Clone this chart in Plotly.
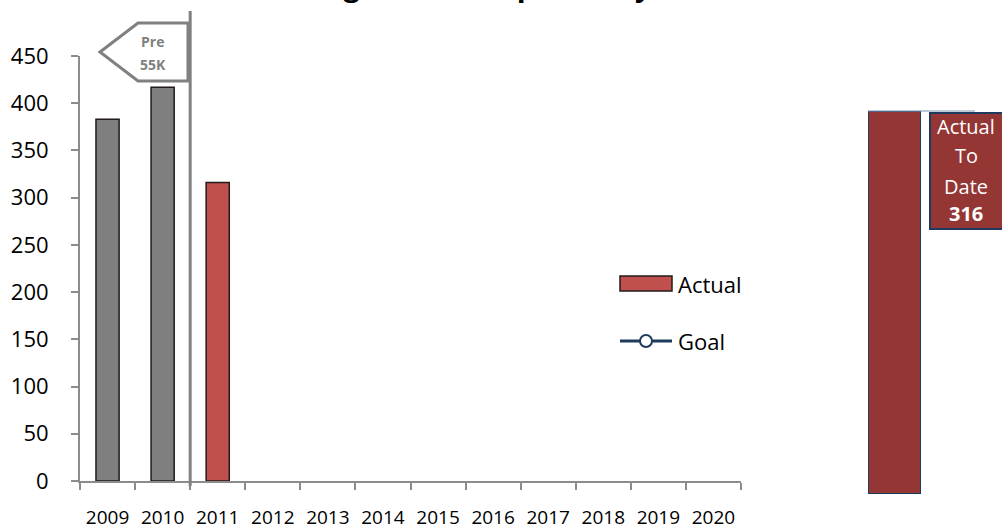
import plotly.graph_objects as go

# ---- data ----
years = ["2009", "2010", "2011", "2012", "2013", "2014", "2015", "2016",
         "2017", "2018", "2019", "2020"]
pre_years = ["2009", "2010"]
pre_values = [383, 417]
actual_years = ["2011"]
actual_values = [316]
goal_values = [None] * len(years)
actual_to_date = 316
y_ticks = [0, 50, 100, 150, 200, 250, 300, 350, 400, 450]

W, H = 1002, 529


def fx(p):
    return p / W


def fy(p):
    return 1 - p / H


FONT = "Open Sans"
GRAY = "#808080"
AXIS = "#8C8C8C"
RED = "#C0504D"
DARKRED = "#943634"
NAVY = "#1F3A5F"

fig = go.Figure()

fig.add_trace(go.Bar(
    x=pre_years, y=pre_values, width=0.42, name="Pre 55K",
    marker=dict(color="#7F7F7F", line=dict(color="#231A1A", width=1.5)),
    showlegend=False, xaxis="x", yaxis="y",
))
fig.add_trace(go.Bar(
    x=actual_years, y=actual_values, width=0.42, name="Actual",
    marker=dict(color=RED, line=dict(color="#231A1A", width=1.5)),
    showlegend=False, xaxis="x", yaxis="y",
))
fig.add_trace(go.Scatter(
    x=years, y=goal_values, name="Goal", mode="lines+markers",
    line=dict(color=NAVY, width=3),
    marker=dict(symbol="circle", size=11, color="white",
                line=dict(color=NAVY, width=2)),
    showlegend=False, xaxis="x", yaxis="y",
))

# running total bar on its own axes
fig.add_trace(go.Bar(
    x=[0], y=[actual_to_date], width=[1], name="Actual To Date",
    marker=dict(color=DARKRED, line=dict(color=NAVY, width=2)),
    showlegend=False, xaxis="x2", yaxis="y2",
))

shapes = [
    # separator between pre and current period
    dict(type="line", xref="x", yref="paper", x0=1.5, x1=1.5,
         y0=fy(486), y1=fy(11), line=dict(color=GRAY, width=3)),
    # "Pre 55K" pointer
    dict(type="path", xref="paper", yref="paper",
         path=(f"M {fx(100)},{fy(52)} L {fx(138)},{fy(23)} L {fx(188)},{fy(23)} "
               f"L {fx(188)},{fy(81)} L {fx(138)},{fy(81)} Z"),
         fillcolor="white", line=dict(color=GRAY, width=3)),
    # legend: Actual swatch
    dict(type="rect", xref="paper", yref="paper",
         x0=fx(620), x1=fx(672), y0=fy(291), y1=fy(276),
         fillcolor=RED, line=dict(color="#231A1A", width=1.5)),
    # legend: Goal line + marker
    dict(type="line", xref="paper", yref="paper",
         x0=fx(620), x1=fx(672), y0=fy(341), y1=fy(341),
         line=dict(color=NAVY, width=3)),
    dict(type="circle", xref="paper", yref="paper",
         x0=fx(640), x1=fx(652), y0=fy(347), y1=fy(335),
         fillcolor="white", line=dict(color=NAVY, width=2)),
    # label box beside the running total bar
    dict(type="line", xref="paper", yref="paper",
         x0=fx(868), x1=fx(975), y0=fy(111), y1=fy(111),
         line=dict(color="#7F93AE", width=1)),
    dict(type="rect", xref="paper", yref="paper",
         x0=fx(930), x1=fx(1012), y0=fy(229), y1=fy(113),
         fillcolor=DARKRED, line=dict(color=NAVY, width=2)),
]


def label(text, x, y, size, color, xanchor="center", yshift=0):
    return dict(text=text, xref="paper", yref="paper", x=fx(x), y=fy(y),
                xanchor=xanchor, yanchor="middle", yshift=yshift,
                showarrow=False, font=dict(family=FONT, size=size, color=color))


annotations = [
    dict(text="<b>Housing Units Completed by Year</b>", xref="paper", yref="paper",
         x=fx(483), y=1, xanchor="center", yanchor="middle", yshift=16,
         showarrow=False, font=dict(family=FONT, size=29, color="black")),
    label("<b>Pre</b>", 152, 42, 14, GRAY),
    label("<b>55K</b>", 153, 64, 14, GRAY),
    label("Actual", 676, 284, 22, "black", xanchor="left"),
    label("Goal", 676, 341, 22, "black", xanchor="left"),
    label("Actual", 966, 126, 20, "white"),
    label("To", 966, 156, 20, "white"),
    label("Date", 966, 186, 20, "white"),
    label(f"<b>{actual_to_date}</b>", 966, 213, 20, "white"),
]

fig.update_layout(
    width=W, height=H,
    margin=dict(l=0, r=0, t=0, b=0, autoexpand=False),
    paper_bgcolor="white", plot_bgcolor="white",
    barmode="overlay",
    showlegend=False,
    font=dict(family=FONT, color="black"),
    xaxis=dict(
        type="category", categoryorder="array", categoryarray=years,
        range=[-0.5, len(years) - 0.5],
        domain=[fx(80), fx(741)],
        showline=True, linecolor=AXIS, linewidth=2,
        ticks="outside", tickson="boundaries", ticklen=7,
        tickcolor=AXIS, tickwidth=2,
        showgrid=False, zeroline=False,
        tickfont=dict(family=FONT, size=19, color="black"),
        ticklabelstandoff=18, automargin=False,
        anchor="y",
    ),
    yaxis=dict(
        range=[0, 450], domain=[fy(481), fy(56)],
        tickvals=y_ticks,
        showline=True, linecolor=AXIS, linewidth=2,
        ticks="outside", ticklen=7, tickcolor=AXIS, tickwidth=2,
        showgrid=False, zeroline=False,
        tickfont=dict(family=FONT, size=22, color="black"),
        ticklabelstandoff=18, automargin=False,
        anchor="x",
    ),
    xaxis2=dict(
        range=[-0.5, 0.5], domain=[fx(868), fx(921)],
        visible=False, anchor="y2", automargin=False,
    ),
    yaxis2=dict(
        range=[0, actual_to_date], domain=[fy(494), fy(111)],
        visible=False, anchor="x2", automargin=False,
    ),
    shapes=shapes,
    annotations=annotations,
)

fig.write_html("out.html")
